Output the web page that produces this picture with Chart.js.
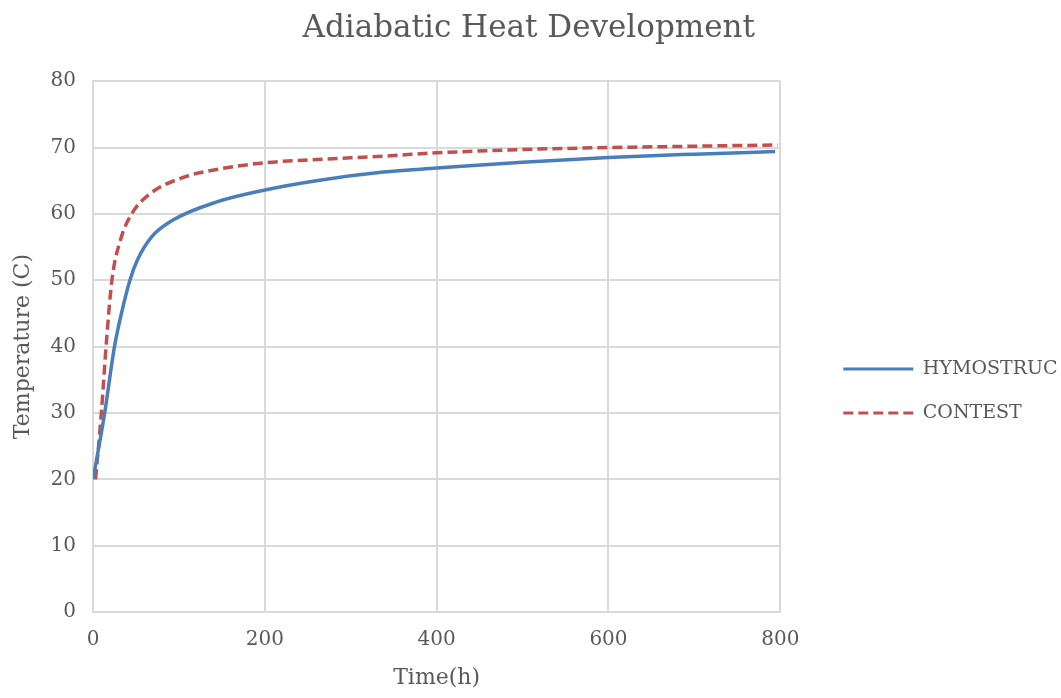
<!DOCTYPE html>
<html>
<head>
<meta charset="utf-8">
<script src="https://cdn.jsdelivr.net/npm/chart.js@4/dist/chart.umd.min.js"></script>
<style>
  html, body { margin: 0; padding: 0; background: #ffffff; }
  #wrap { width: 1061px; height: 698px; }
</style>
</head>
<body>
<div id="wrap"><canvas id="heat-chart"></canvas></div>
<script>
// --- 데이터 ---
const hymoTime = [0, 7, 13.6, 25, 34, 43, 51.5, 68, 93.5, 144, 200, 260, 338, 400, 500, 600, 700, 794];
const hymoTemp = [20, 25, 30, 40, 45.5, 50, 53, 56.5, 59.1, 61.8, 63.6, 65.0, 66.3, 66.9, 67.8, 68.5, 69.0, 69.4];
const contestTime = [3, 9.7, 15.5, 22, 33, 45, 66, 105, 144, 200, 260, 338, 400, 500, 600, 700, 797];
const contestTemp = [20, 30, 40.5, 50, 56.5, 60, 63.0, 65.5, 66.7, 67.7, 68.2, 68.7, 69.2, 69.7, 70.0, 70.2, 70.4];
const seriesNames = ['HYMOSTRUC', 'CONTEST'];
const xTicks = [0, 200, 400, 600, 800];
const yTicks = [0, 10, 20, 30, 40, 50, 60, 70, 80];

const textColor = '#595959';
const gridColor = '#d9d9d9';
const fontFamily = '"DejaVu Serif", "Liberation Serif", serif';

const toPoints = (xs, ys) => xs.map((x, i) => ({ x: x, y: ys[i] }));

// 범례 선 모양을 데이터셋 선 스타일로 맞춤
function legendLabels(chart) {
    const items = Chart.defaults.plugins.legend.labels.generateLabels(chart);
    items.forEach(item => {
        const ds = chart.data.datasets[item.datasetIndex];
        item.lineDash = ds.borderDash || [];
        item.lineWidth = 3;
        item.strokeStyle = ds.borderColor;
    });
    return items;
}

new Chart(document.getElementById('heat-chart'), {
    type: 'line',
    data: {
        datasets: [
            {
                label: seriesNames[0],
                data: toPoints(hymoTime, hymoTemp),
                borderColor: '#4a7ebb',
                backgroundColor: '#4a7ebb',
                borderWidth: 3.5,
                pointRadius: 0,
                cubicInterpolationMode: 'monotone'
            },
            {
                label: seriesNames[1],
                data: toPoints(contestTime, contestTemp),
                borderColor: '#c0504d',
                backgroundColor: '#c0504d',
                borderWidth: 3.5,
                borderDash: [10, 5],
                pointRadius: 0,
                cubicInterpolationMode: 'monotone'
            }
        ]
    },
    options: {
        responsive: true,
        maintainAspectRatio: false,
        animation: false,
        layout: { padding: { left: -10, right: -6.5, top: 0, bottom: 0 } },
        plugins: {
            title: {
                display: true,
                text: 'Adiabatic Heat Development',
                color: textColor,
                font: { family: fontFamily, size: 31, weight: 'normal' },
                padding: { top: 10, bottom: 34 }
            },
            legend: {
                position: 'right',
                maxWidth: 300,
                title: { display: true, text: ' ', font: { size: 10 }, padding: { top: 36, bottom: 36 } },
                labels: {
                    usePointStyle: true,
                    pointStyle: 'line',
                    pointStyleWidth: 70,
                    padding: 25,
                    color: textColor,
                    font: { family: fontFamily, size: 19 },
                    generateLabels: legendLabels
                }
            },
            tooltip: { enabled: false }
        },
        scales: {
            x: {
                type: 'linear',
                min: 0,
                max: 800,
                afterBuildTicks: (scale) => { scale.ticks = xTicks.map(v => ({ value: v })); },
                afterFit: (scale) => { scale.height = 86; },
                grid: { color: gridColor, lineWidth: 2, drawTicks: false },
                border: { color: gridColor, width: 2 },
                ticks: { color: textColor, padding: 16, font: { family: fontFamily, size: 20 } },
                title: {
                    display: true,
                    text: 'Time(h)',
                    color: textColor,
                    font: { family: fontFamily, size: 22 },
                    padding: { top: 12, bottom: 7 }
                }
            },
            y: {
                min: 0,
                max: 80,
                afterBuildTicks: (scale) => { scale.ticks = yTicks.map(v => ({ value: v })); },
                afterFit: (scale) => { scale.width = 103; },
                grid: { color: gridColor, lineWidth: 2, drawTicks: false },
                border: { color: gridColor, width: 2 },
                ticks: { color: textColor, padding: 17, font: { family: fontFamily, size: 20 } },
                title: {
                    display: true,
                    text: 'Temperature (C)',
                    color: textColor,
                    font: { family: fontFamily, size: 22 },
                    padding: { top: 20, bottom: 10 }
                }
            },
            // 범례 앞 여백용 빈 축
            gap: {
                type: 'linear',
                position: 'right',
                display: true,
                grid: { display: false, drawOnChartArea: false },
                border: { display: false },
                ticks: { display: false },
                afterFit: (scale) => { scale.width = 38; }
            }
        }
    }
});
</script>
</body>
</html>
